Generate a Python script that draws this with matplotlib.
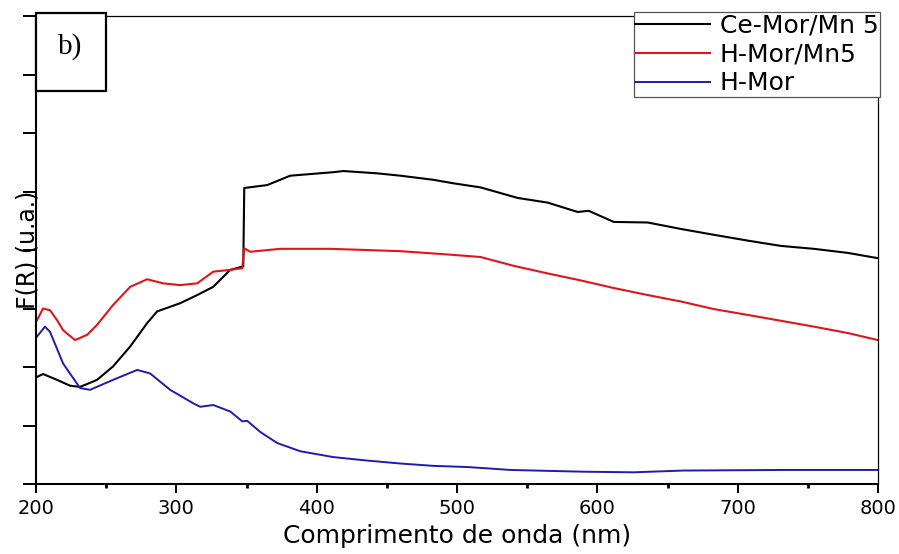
import matplotlib.pyplot as plt
from matplotlib.patches import Rectangle

# comprimento de onda (nm) e F(R)
ce_mor_x = [200.7, 205.0, 215.0, 224.3, 231.4, 243.5, 254.9, 267.1, 279.2, 286.3, 302.7, 314.9,
            326.3, 338.4, 347.7, 348.4, 364.8, 381.1, 411.9, 419.0, 443.3, 459.7, 483.2, 497.5,
            516.8, 543.2, 564.6, 586.0, 593.8, 611.7, 635.9, 659.5, 683.0, 707.3, 730.8, 754.3,
            778.6, 800.0]
ce_mor_y = [1.83, 1.88, 1.78, 1.68, 1.66, 1.78, 2.01, 2.35, 2.75, 2.95, 3.09, 3.23,
            3.37, 3.66, 3.72, 5.06, 5.11, 5.27, 5.33, 5.35, 5.31, 5.27, 5.20, 5.14,
            5.07, 4.89, 4.81, 4.65, 4.67, 4.48, 4.47, 4.36, 4.26, 4.16, 4.07, 4.02,
            3.95, 3.86]

h_mor_mn_x = [200.7, 205.0, 210.0, 215.0, 219.3, 227.8, 236.4, 243.5, 254.9, 267.1, 279.2, 290.6,
              302.7, 314.9, 326.3, 338.4, 347.0, 348.4, 352.7, 374.1, 409.8, 459.7, 495.4, 516.8,
              540.3, 564.6, 588.1, 611.7, 635.9, 659.5, 683.0, 707.3, 730.8, 754.3, 778.6, 800.0]
h_mor_mn_y = [2.80, 3.00, 2.97, 2.80, 2.63, 2.46, 2.55, 2.72, 3.06, 3.37, 3.50, 3.43,
              3.40, 3.43, 3.63, 3.66, 3.69, 4.03, 3.97, 4.02, 4.02, 3.98, 3.92, 3.88,
              3.73, 3.60, 3.48, 3.35, 3.23, 3.12, 2.99, 2.89, 2.79, 2.69, 2.58, 2.46]

h_mor_x = [200.7, 206.4, 210.0, 219.3, 231.4, 238.5, 254.9, 272.1, 281.3, 295.6, 312.0, 317.0,
           326.3, 338.4, 347.0, 350.5, 359.8, 371.9, 388.3, 411.9, 436.2, 459.7, 483.2, 507.5,
           538.2, 590.2, 625.9, 661.6, 732.9, 800.0]
h_mor_y = [2.52, 2.69, 2.60, 2.06, 1.64, 1.61, 1.78, 1.95, 1.89, 1.61, 1.38, 1.32,
           1.35, 1.24, 1.07, 1.08, 0.89, 0.70, 0.56, 0.46, 0.40, 0.35, 0.31, 0.29,
           0.24, 0.21, 0.20, 0.23, 0.24, 0.24]

labels = ["Ce-Mor/Mn 5", "H-Mor/Mn5", "H-Mor"]
colors = ["#000000", "#e0141c", "#1c1cb0"]
x_ticks = [200, 300, 400, 500, 600, 700, 800]

W, H = 899, 554
fig = plt.figure(figsize=(W / 100, H / 100), dpi=100)
ax = fig.add_axes([36 / W, 70 / H, 842 / W, 468 / H])

ax.plot(ce_mor_x, ce_mor_y, color=colors[0], lw=1.5, label=labels[0])
ax.plot(h_mor_mn_x, h_mor_mn_y, color=colors[1], lw=1.5, label=labels[1])
ax.plot(h_mor_x, h_mor_y, color=colors[2], lw=1.4, label=labels[2])

ax.set_xlim(200, 800)
ax.set_ylim(0, 8)
ax.set_xticks(x_ticks)
ax.set_xticks(range(250, 800, 100), minor=True)
ax.set_yticks(range(0, 9))
ax.set_yticklabels([])
ax.tick_params(axis="x", which="major", direction="out", length=6.5, width=1.4,
               labelsize=14, pad=4)
ax.tick_params(axis="x", which="minor", direction="out", length=3, width=2)
ax.tick_params(axis="y", which="major", direction="out", length=9.5, width=1.4)

for s in ["left", "bottom"]:
    ax.spines[s].set_linewidth(1.5)
for s in ["top", "right"]:
    ax.spines[s].set_linewidth(0.9)

fig.text(457 / W, 1 - 543 / H, "Comprimento de onda (nm)", fontsize=18,
         ha="center", va="baseline")
fig.text(27 / W, 1 - 250 / H, "F(R) (u.a.)", fontsize=17, rotation=90,
         ha="center", va="center")

leg = ax.legend(loc="upper right", bbox_to_anchor=(880 / W, 1 - 12 / H),
                bbox_transform=fig.transFigure, fontsize=18, fancybox=False,
                framealpha=1, edgecolor="#555555", borderpad=0.05, labelspacing=0.2,
                handlelength=3.0, handletextpad=0.4, borderaxespad=0)
leg.get_frame().set_linewidth(0.9)

# caixa "b)"
fig.add_artist(Rectangle((36 / W, 1 - 91 / H), 70 / W, 78 / H, transform=fig.transFigure,
                         facecolor="white", edgecolor="black", lw=1.6, zorder=5))
fig.text(70 / W, 1 - 54 / H, "b)", fontsize=21, family="Liberation Serif",
         ha="center", va="baseline", zorder=6)

fig.savefig("out.png", dpi=100)
